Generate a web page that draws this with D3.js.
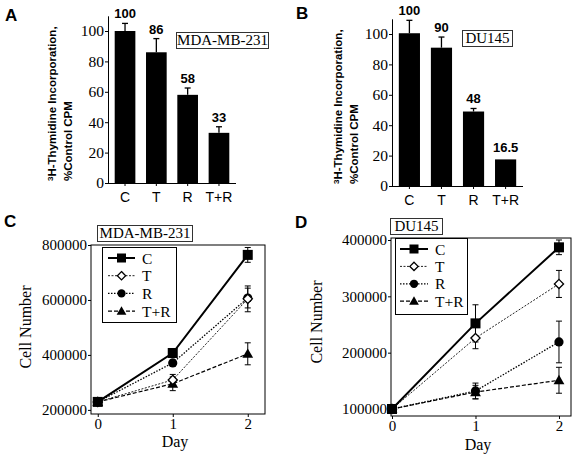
<!DOCTYPE html>
<html>
<head>
<meta charset="utf-8">
<script src="https://cdn.jsdelivr.net/npm/d3@7"></script>
<style>
  html, body { margin: 0; padding: 0; background: #fff; }
  svg { display: block; }
</style>
</head>
<body>
<svg id="chart" width="577" height="456"></svg>
<script>
// ---------- DATA ----------
const barCategories = ["C", "T", "R", "T+R"];
const barTicks = [0, 20, 40, 60, 80, 100];

const mdaBarValues = [100, 86, 58, 33];
const mdaBarErrTop = [105, 95, 62.5, 37];
const mdaBarLabels = ["100", "86", "58", "33"];

const duBarValues = [100.5, 91, 49, 17.5];
const duBarErrTop = [109, 98, 51, null];
const duBarLabels = ["100", "90", "48", "16.5"];

const days = [0, 1, 2];
const seriesNames = ["C", "T", "R", "T+R"];

const mdaCell = {
  "C":   [229000, 407000, 764000],
  "T":   [229000, 309000, 604000],
  "R":   [229000, 371000, 607000],
  "T+R": [229000, 295000, 404000]
};
const mdaCellSD = {
  "C":   [0, 8000, 27000],
  "T":   [0, 20000, 47000],
  "R":   [0, 10000, 36000],
  "T+R": [0, 25000, 40000]
};
const mdaTicks = [200000, 400000, 600000, 800000];

const duCell = {
  "C":   [100000, 252000, 387000],
  "T":   [100000, 226000, 322000],
  "R":   [100000, 132000, 219000],
  "T+R": [100000, 130000, 151000]
};
const duCellSD = {
  "C":   [0, 33000, 13000],
  "T":   [0, 19000, 24000],
  "R":   [0, 14000, 37000],
  "T+R": [0, 12000, 23000]
};
const duTicks = [100000, 200000, 300000, 400000];

// ---------- STYLES ----------
const SERIF = "'Liberation Serif', 'Times New Roman', serif";
const SANS = "'Liberation Sans', Arial, Helvetica, sans-serif";
const lineStyle = {
  "C":   { w: 2,   dash: null,      color: "#000" },
  "T":   { w: 1,   dash: "2,1.5",   color: "#222" },
  "R":   { w: 1.3, dash: "1.5,1.5", color: "#000" },
  "T+R": { w: 1.2, dash: "4,2",     color: "#000" }
};

const svg = d3.select("#chart");
svg.append("rect").attr("width", 577).attr("height", 456).attr("fill", "#fff");

function panelLetter(txt, x, y) {
  svg.append("text").attr("x", x).attr("y", y).text(txt)
    .attr("font-family", SANS).attr("font-weight", "bold").attr("font-size", 17).attr("fill", "#000");
}

function labelBox(txt, x, y, w, h) {
  svg.append("rect").attr("x", x + 0.5).attr("y", y + 0.5).attr("width", w).attr("height", h)
    .attr("fill", "#fff").attr("stroke", "#333").attr("stroke-width", 1);
  svg.append("text").attr("x", x + w / 2 + 0.5).attr("y", y + h - 3)
    .attr("text-anchor", "middle").attr("font-family", SERIF).attr("font-size", 15).text(txt);
}

function styleAxis(g) {
  g.selectAll("path, line").attr("stroke", "#000").attr("stroke-width", 1);
}

// ---------- BAR PANEL ----------
function barPanel(opts) {
  const { axisX, zeroY, topY, maxV, xEnd, values, errTop, labels, ylabelX } = opts;
  const y = d3.scaleLinear().domain([0, maxV]).range([zeroY, topY]);
  const x = d3.scaleBand().domain(barCategories).range([axisX + 2, xEnd - 2])
    .paddingInner(0.34).paddingOuter(0.15);

  const gy = svg.append("g").attr("transform", `translate(${axisX},0)`)
    .call(d3.axisLeft(y).tickValues(barTicks).tickSize(3).tickPadding(1).tickSizeOuter(0));
  styleAxis(gy);
  gy.selectAll("text").attr("font-family", SERIF).attr("font-size", 15.5).attr("fill", "#000");

  const gx = svg.append("g").attr("transform", `translate(0,${zeroY})`)
    .call(d3.axisBottom(x).tickSize(3).tickPadding(6).tickSizeOuter(0));
  gx.select("path.domain").attr("d", `M${axisX},0.5H${xEnd}`);
  styleAxis(gx);
  gx.selectAll("text").attr("font-family", SANS).attr("font-size", 14).attr("fill", "#000");

  // error bars (upper only)
  barCategories.forEach((c, i) => {
    if (errTop[i] == null) return;
    const cx = x(c) + x.bandwidth() / 2;
    svg.append("line").attr("x1", cx).attr("x2", cx).attr("y1", y(values[i])).attr("y2", y(errTop[i]))
      .attr("stroke", "#000").attr("stroke-width", 1.3);
    svg.append("line").attr("x1", cx - 3).attr("x2", cx + 3).attr("y1", y(errTop[i])).attr("y2", y(errTop[i]))
      .attr("stroke", "#000").attr("stroke-width", 1.3);
  });

  svg.append("g").selectAll("rect").data(barCategories).join("rect")
    .attr("x", d => x(d)).attr("width", x.bandwidth())
    .attr("y", (d, i) => y(values[i])).attr("height", (d, i) => zeroY - y(values[i]))
    .attr("fill", "#000");

  svg.append("g").selectAll("text").data(barCategories).join("text")
    .attr("x", d => x(d) + x.bandwidth() / 2)
    .attr("y", (d, i) => errTop[i] != null ? y(errTop[i]) - 5 : y(values[i]) - 7)
    .attr("text-anchor", "middle").attr("font-family", SANS).attr("font-weight", "bold")
    .attr("font-size", 13).text((d, i) => labels[i]);

  // y label (two rotated lines)
  const yl = svg.append("text").attr("transform", `translate(${ylabelX},${zeroY - 2}) rotate(-90)`)
    .attr("font-family", SANS).attr("font-weight", "bold").attr("font-size", 11.5).attr("fill", "#000");
  yl.append("tspan").attr("x", 0).attr("y", 0).attr("font-size", 8).attr("dy", -3).text("3");
  yl.append("tspan").attr("dy", 3).text("H-Thymidine Incorporation,");
  yl.append("tspan").attr("x", 0).attr("y", 16).text("%Control CPM");
}

// ---------- LINE PANEL ----------
function linePanel(opts) {
  const { left, right, top, bottom, xDomain, yDomain, ticks, data, sd, legend, ylabelX, ylabelY, dayX, dayY } = opts;
  const x = d3.scaleLinear().domain(xDomain).range([left, right]);
  const y = d3.scaleLinear().domain(yDomain).range([bottom, top]);

  svg.append("rect").attr("x", left).attr("y", top).attr("width", right - left).attr("height", bottom - top)
    .attr("fill", "none").attr("stroke", "#000").attr("stroke-width", 1);

  const gy = svg.append("g").attr("transform", `translate(${left},0)`)
    .call(d3.axisLeft(y).tickValues(ticks).tickFormat(d3.format("d")).tickSize(3).tickPadding(1).tickSizeOuter(0));
  gy.select("path.domain").remove();
  styleAxis(gy);
  gy.selectAll("text").attr("font-family", SERIF).attr("font-size", 15).attr("fill", "#000");

  const gx = svg.append("g").attr("transform", `translate(0,${bottom})`)
    .call(d3.axisBottom(x).tickValues(days).tickFormat(d3.format("d")).tickSize(3).tickPadding(1).tickSizeOuter(0));
  gx.select("path.domain").remove();
  styleAxis(gx);
  gx.selectAll("text").attr("font-family", SERIF).attr("font-size", 15).attr("fill", "#000");

  svg.append("text").attr("x", dayX).attr("y", dayY).attr("text-anchor", "middle")
    .attr("font-family", SERIF).attr("font-size", 16).text("Day");
  svg.append("text").attr("transform", `translate(${ylabelX},${ylabelY}) rotate(-90)`)
    .attr("text-anchor", "middle").attr("font-family", SERIF).attr("font-size", 16).text("Cell Number");

  const line = d3.line().x((d, i) => x(days[i])).y(d => y(d));
  const order = ["T+R", "R", "T", "C"];
  order.forEach(s => {
    const st = lineStyle[s];
    svg.append("path").attr("d", line(data[s])).attr("fill", "none")
      .attr("stroke", st.color).attr("stroke-width", st.w)
      .attr("stroke-dasharray", st.dash);
  });
  order.forEach(s => {
    data[s].forEach((v, i) => {
      const e = sd[s][i];
      if (!e) return;
      const cx = x(days[i]);
      const g = svg.append("g").attr("stroke", "#000").attr("stroke-width", 1);
      g.append("line").attr("x1", cx).attr("x2", cx).attr("y1", y(v - e)).attr("y2", y(v + e));
      g.append("line").attr("x1", cx - 3).attr("x2", cx + 3).attr("y1", y(v - e)).attr("y2", y(v - e));
      g.append("line").attr("x1", cx - 3).attr("x2", cx + 3).attr("y1", y(v + e)).attr("y2", y(v + e));
    });
  });
  order.forEach(s => {
    data[s].forEach((v, i) => drawMarker(s, x(days[i]), y(v), 1));
  });

  const lg = legend;
  svg.append("rect").attr("x", lg.x + 0.5).attr("y", lg.y + 0.5).attr("width", lg.w).attr("height", lg.h)
    .attr("fill", "#fff").attr("stroke", "#000").attr("stroke-width", 1);
  seriesNames.forEach((s, i) => {
    const yy = lg.y + lg.first + i * lg.step;
    const st = lineStyle[s];
    svg.append("line").attr("x1", lg.x + lg.l1).attr("x2", lg.x + lg.l2).attr("y1", yy).attr("y2", yy)
      .attr("stroke", st.color).attr("stroke-width", st.w).attr("stroke-dasharray", st.dash);
    drawMarker(s, lg.x + (lg.l1 + lg.l2) / 2, yy, 0.9);
    svg.append("text").attr("x", lg.x + lg.tx).attr("y", yy + 5.5)
      .attr("font-family", SERIF).attr("font-size", 15.5).text(s);
  });
}

function drawMarker(s, cx, cy, k) {
  if (s === "C") {
    const a = 10 * k;
    svg.append("rect").attr("x", cx - a / 2).attr("y", cy - a / 2).attr("width", a).attr("height", a).attr("fill", "#000");
  } else if (s === "T") {
    const a = 4.6 * k;
    svg.append("path").attr("d", `M${cx},${cy - a}L${cx + a},${cy}L${cx},${cy + a}L${cx - a},${cy}Z`)
      .attr("fill", "#fff").attr("stroke", "#000").attr("stroke-width", 1.3);
  } else if (s === "R") {
    svg.append("circle").attr("cx", cx).attr("cy", cy).attr("r", 4.6 * k).attr("fill", "#000");
  } else {
    const a = 5.4 * k;
    svg.append("path").attr("d", `M${cx},${cy - a}L${cx + a},${cy + a * 0.75}L${cx - a},${cy + a * 0.75}Z`).attr("fill", "#000");
  }
}

// ---------- BUILD ----------
panelLetter("A", 5, 21);
panelLetter("B", 296, 19);
panelLetter("C", 4, 227);
panelLetter("D", 295, 228);

barPanel({ axisX: 108, zeroY: 183, topY: 15.8, maxV: 110, xEnd: 236,
  values: mdaBarValues, errTop: mdaBarErrTop, labels: mdaBarLabels, ylabelX: 56 });
barPanel({ axisX: 392, zeroY: 186, topY: 18.8, maxV: 110, xEnd: 523,
  values: duBarValues, errTop: duBarErrTop, labels: duBarLabels, ylabelX: 342 });

labelBox("MDA-MB-231", 176, 32, 92, 16);
labelBox("DU145", 462, 30, 50, 16);

linePanel({ left: 91, right: 265, top: 245, bottom: 414,
  xDomain: [-0.09, 2.23], yDomain: [185000, 800000], ticks: mdaTicks,
  data: mdaCell, sd: mdaCellSD,
  legend: { x: 102, y: 247, w: 74, h: 75, first: 11, step: 17.7, l1: 6, l2: 33, tx: 40 },
  ylabelX: 31, ylabelY: 327, dayX: 175, dayY: 447 });
linePanel({ left: 391, right: 571, top: 238, bottom: 416,
  xDomain: [-0.012, 2.144], yDomain: [87570, 403550], ticks: duTicks,
  data: duCell, sd: duCellSD,
  legend: { x: 395, y: 238, w: 72, h: 76, first: 11, step: 17.4, l1: 5, l2: 33, tx: 40 },
  ylabelX: 322, ylabelY: 322, dayX: 478, dayY: 450 });

labelBox("MDA-MB-231", 97, 225, 95, 16);
labelBox("DU145", 390, 218, 52, 16);
</script>
</body>
</html>
